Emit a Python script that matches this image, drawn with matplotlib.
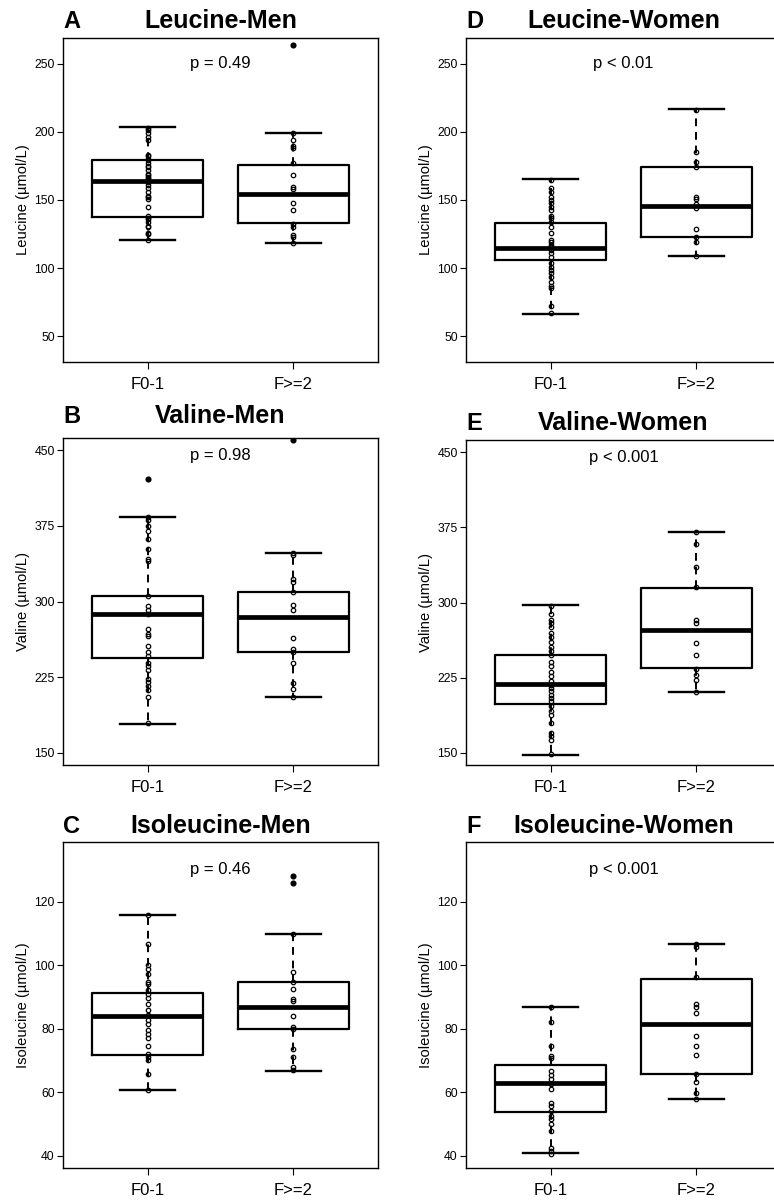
import matplotlib
matplotlib.use("Agg")
import matplotlib.pyplot as plt

plt.rcParams["font.family"] = ["Liberation Sans", "DejaVu Sans"]

groups = ["F0-1", "F>=2"]

# box stats per group: [whisker low, q1, median, q3, whisker high]
leu_men_stats = [[120.5, 137.8, 163.9, 179.0, 203.4], [118.3, 133.0, 154.5, 175.6, 199.3]]
leu_men_fliers = [[], [263.4]]
leu_men_pts_f01 = [203, 201, 199, 196, 194, 183, 182, 180, 179, 177, 175, 174, 172, 169, 168,
                   167, 166, 165, 163, 161, 159, 156, 153, 152, 151, 145, 138, 137, 136, 134,
                   131, 130, 126, 125, 121]
leu_men_pts_f2 = [199, 194, 189.5, 188.5, 176.8, 168.3, 159.8, 157.8, 148, 143, 132.4, 130.5,
                  124.4, 122.7, 118.5]

leu_wom_stats = [[66.3, 106.1, 115.1, 133.4, 165.4], [109.0, 123.2, 145.5, 174.4, 216.6]]
leu_wom_fliers = [[], []]
leu_wom_pts_f01 = [164.6, 158.5, 156, 152.4, 150, 147.6, 145, 142.7, 138.3, 136.6, 134, 130.5,
                   125.6, 121, 119.5, 117, 115.4, 113.4, 111, 108.5, 103.7, 101.2, 98.8, 96.3,
                   93.4, 90.2, 87, 85.4, 72, 67]
leu_wom_pts_f2 = [216, 185.4, 178, 174.4, 152.4, 150.5, 147, 144, 128.5, 122.7, 119.5, 109]

val_men_stats = [[178.9, 244.2, 287.6, 305.8, 383.7], [205.4, 250.1, 284.3, 309.1, 347.9]]
val_men_fliers = [[421.0], [460.0]]
val_men_pts_f01 = [383.7, 381, 375, 370, 362, 352, 342, 340, 305.8, 296, 292, 288, 273, 268,
                   265.4, 256, 249.5, 246, 239.5, 236, 232, 223, 220.3, 216.3, 212.3, 205.4,
                   179.9]
val_men_pts_f2 = [348, 345.6, 322.4, 319.7, 309, 296.5, 292, 263.4, 253.4, 250, 239.5, 219.6,
                  213, 205.4]

val_wom_stats = [[148.4, 199.1, 218.6, 247.8, 297.2], [211.0, 234.6, 272.7, 314.8, 370.1]]
val_wom_fliers = [[], []]
val_wom_pts_f01 = [297, 289, 282.6, 280, 276, 269.4, 265.4, 261, 256, 252, 248, 241, 236.2,
                   231.2, 226.3, 221.3, 218, 214.7, 211.4, 208, 204.7, 201.4, 196.4, 191.5,
                   188.2, 180, 170, 166.6, 163.3, 149.4]
val_wom_pts_f2 = [370, 358.8, 335.6, 315, 282.6, 279.3, 260, 247.8, 233.6, 228, 223, 211]

ile_men_stats = [[60.8, 71.8, 84.0, 91.4, 115.8], [66.8, 79.9, 86.8, 94.8, 110.0]]
ile_men_fliers = [[], [128.1, 125.8]]
ile_men_pts_f01 = [115.8, 106.8, 100, 98.9, 97.4, 94.7, 94.2, 92.1, 91, 89.8, 87.9, 85.8, 84.2,
                   82.8, 81.4, 79.5, 78.4, 77.2, 74.7, 72.1, 71, 70.2, 65.8, 60.8]
ile_men_pts_f2 = [110, 97.9, 94.8, 92.6, 89.5, 88.9, 83.9, 80.7, 80, 73.7, 71, 67.9, 67]

ile_wom_stats = [[41.0, 53.7, 62.9, 68.7, 86.8], [57.8, 65.8, 81.4, 95.8, 106.8]]
ile_wom_fliers = [[], []]
ile_wom_pts_f01 = [86.8, 82.1, 74.7, 71.6, 70.8, 66.8, 65.6, 64.2, 62.6, 61, 56.8, 55.8, 54.2,
                   52.6, 51.6, 50, 47.9, 42.6, 41.6, 40.7]
ile_wom_pts_f2 = [106.6, 105.8, 96.3, 87.7, 86.8, 84.9, 77.9, 74.7, 71.9, 65.8, 63.2, 59.7, 57.9]

leu_ticks = [50, 100, 150, 200, 250]
val_ticks = [150, 225, 300, 375, 450]
ile_ticks = [40, 60, 80, 100, 120]

W, H = 774, 1201
fig = plt.figure(figsize=(W / 100, H / 100), dpi=100)

panels = [
    # letter, title, ylabel, stats, fliers, pts, ylim, ticks, p text, p y, box (l, t, r, b), title gap
    ("A", "Leucine-Men", "Leucine (µmol/L)", leu_men_stats, leu_men_fliers,
     [leu_men_pts_f01, leu_men_pts_f2], (31.2, 268.8), leu_ticks, "p = 0.49", 250,
     (63, 38, 378, 362), 10),
    ("D", "Leucine-Women", "Leucine (µmol/L)", leu_wom_stats, leu_wom_fliers,
     [leu_wom_pts_f01, leu_wom_pts_f2], (31.2, 268.8), leu_ticks, "p < 0.01", 250,
     (466, 38, 781, 362), 10),
    ("B", "Valine-Men", "Valine (µmol/L)", val_men_stats, val_men_fliers,
     [val_men_pts_f01, val_men_pts_f2], (138, 462), val_ticks, "p = 0.98", 445,
     (63, 438, 378, 765), 15),
    ("E", "Valine-Women", "Valine (µmol/L)", val_wom_stats, val_wom_fliers,
     [val_wom_pts_f01, val_wom_pts_f2], (138, 462), val_ticks, "p < 0.001", 445,
     (466, 440, 781, 765), 10),
    ("C", "Isoleucine-Men", "Isoleucine (µmol/L)", ile_men_stats, ile_men_fliers,
     [ile_men_pts_f01, ile_men_pts_f2], (36.2, 138.8), ile_ticks, "p = 0.46", 130,
     (63, 842, 378, 1168), 9),
    ("F", "Isoleucine-Women", "Isoleucine (µmol/L)", ile_wom_stats, ile_wom_fliers,
     [ile_wom_pts_f01, ile_wom_pts_f2], (36.2, 138.8), ile_ticks, "p < 0.001", 130,
     (466, 842, 781, 1168), 9),
]

for letter, title, ylabel, stats, fliers, pts, ylim, ticks, ptxt, py, box, gap in panels:
    l, t, r, b = box
    ax = fig.add_axes([l / W, 1 - b / H, (r - l) / W, (b - t) / H])

    bstats = [dict(whislo=s[0], q1=s[1], med=s[2], q3=s[3], whishi=s[4], fliers=f)
              for s, f in zip(stats, fliers)]
    ax.bxp(bstats, positions=[1, 2], widths=0.76, capwidths=0.38,
           boxprops=dict(color="black", linewidth=1.6),
           medianprops=dict(color="black", linewidth=3.4, solid_capstyle="butt"),
           whiskerprops=dict(color="black", linewidth=1.4, linestyle=(0, (4, 3))),
           capprops=dict(color="black", linewidth=1.7),
           flierprops=dict(marker="o", markersize=3.4, markerfacecolor="black",
                           markeredgecolor="black"))

    for i, p in enumerate(pts):
        ax.plot([i + 1] * len(p), p, "o", ms=3.2, mfc="none", mec="black", mew=0.9,
                zorder=4)

    ax.set_xlim(0.42, 2.58)
    ax.set_ylim(*ylim)
    ax.set_xticks([1, 2])
    ax.set_xticklabels(groups)
    ax.set_yticks(ticks)
    ax.tick_params(axis="y", direction="out", length=4, width=0.8, pad=2, labelsize=8.8)
    ax.tick_params(axis="x", direction="out", length=5, width=0.8, pad=6, labelsize=12)
    for s in ax.spines.values():
        s.set_linewidth(1.0)

    ax.set_ylabel(ylabel, fontsize=10.6)
    ax.yaxis.set_label_coords(-0.105, 0.5)

    ty = 1 + gap / (b - t)
    ax.text(0.5, ty, title, transform=ax.transAxes, ha="center", va="baseline",
            fontsize=18, fontweight="bold")
    ax.text(0.0, ty, letter, transform=ax.transAxes, ha="left", va="baseline",
            fontsize=17, fontweight="bold")
    ax.text(1.5, py, ptxt, ha="center", va="center", fontsize=12)

fig.savefig("out.png", dpi=100)
